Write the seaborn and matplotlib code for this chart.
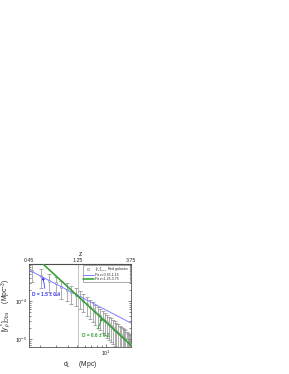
import numpy as np
import pandas as pd
import matplotlib
matplotlib.use("Agg")
import matplotlib.pyplot as plt
import seaborn as sns

# ---- data ----
z_top_ticks = [0.45, 1.25, 3.75]
z_top_pos = [1.55, 5.07, 18.3]          # x positions of the top z labels

d_obs = [1.67, 2.08, 2.51, 2.95, 3.40, 3.86, 4.32, 4.79, 5.27, 5.75, 6.24, 6.73,
         7.22, 7.72, 8.22, 8.73, 9.23, 9.74, 10.25, 10.76, 11.27, 11.79, 12.31,
         12.82, 13.34, 13.86, 14.38, 14.90, 15.43, 15.96, 16.48, 17.01, 17.53, 18.05]
gamma_e4 = [6.29, 4.53, 3.46, 2.905, 2.304, 1.971, 1.687, 1.475,
            1.260, 1.020, 0.842, 0.703, 0.604, 0.517, 0.452, 0.394, 0.344, 0.307,
            0.273, 0.2427, 0.2159, 0.1962, 0.1780, 0.1615, 0.1467, 0.1357, 0.1253,
            0.1162, 0.1076, 0.0997, 0.0923, 0.0852, 0.0788, 0.0744]
err_e4 = [3.15, 2.27, 1.73, 1.45, 1.15, 0.99, 0.84, 0.74,
          0.63, 0.51, 0.438, 0.366, 0.326, 0.279, 0.253, 0.221, 0.200, 0.178,
          0.164, 0.146, 0.134, 0.122, 0.114, 0.103, 0.097, 0.0896, 0.0852,
          0.079, 0.0753, 0.0698, 0.0646, 0.0596, 0.0552, 0.0521]

fit1_x = [1.40, 20.0]
fit1_y = [7.47e-4, 2.35e-5]      # D = 1.5
fit2_x = [2.0, 20.0]
fit2_y = [1.14e-3, 5.66e-6]      # D = 0.6

z_split = 5.07

gamma = [g * 1e-4 for g in gamma_e4]
err = [e * 1e-4 for e in err_e4]

sns.set_style("ticks")
plt.rcParams['font.family'] = ['Liberation Sans', 'DejaVu Sans']
plt.rcParams['mathtext.fontset'] = 'custom'
plt.rcParams['mathtext.rm'] = 'Liberation Sans'
plt.rcParams['mathtext.it'] = 'Liberation Sans:italic'
plt.rcParams['mathtext.bf'] = 'Liberation Sans:bold'

fig = plt.figure(figsize=(2.89, 3.74), dpi=100)
ax = fig.add_axes([0.1003, 0.0722, 0.353, 0.2219])

ax.set_xscale("log")
ax.set_yscale("log")

ax.axvline(z_split, color="#bbbbbb", lw=0.6, zorder=1)

ax.errorbar(d_obs, gamma, yerr=err, fmt="none", ecolor="#8a8a8a",
            elinewidth=0.5, capsize=1.2, capthick=0.5, zorder=2)
df = pd.DataFrame({"d": d_obs, "g": gamma})
sns.scatterplot(data=df, x="d", y="g", ax=ax, marker="o", s=2.5,
                color="#808080", facecolor="white", edgecolor="#808080",
                linewidth=0.4, zorder=3,
                label=r"$[\gamma^*_\rho]_{Obs}$  Red galaxies")

sns.lineplot(x=fit1_x, y=fit1_y, ax=ax, color="#7f7fff", lw=0.7,
             label="Fit z=0.45-1.15", zorder=4)
sns.lineplot(x=fit2_x, y=fit2_y, ax=ax, color="#2e9e2e", lw=1.1,
             label="Fit z=1.25-3.75", zorder=5)

ax.set_xlim(1.55, 18.3)
ax.set_ylim(6.2e-6, 9.4e-4)

ax.tick_params(which="both", direction="in", top=False, right=True,
               labelsize=3.8, width=0.4, pad=1.2, colors="#222222")
ax.tick_params(which="major", length=2.5)
ax.tick_params(which="minor", length=1.3)
for s in ax.spines.values():
    s.set_linewidth(0.6)
    s.set_color("#555555")

ax.set_xlabel(r"d$_L$     (Mpc)", fontsize=4.8)
ax.xaxis.set_label_coords(0.5, -0.15)
ax.set_ylabel(r"$[\gamma^*_\rho]_{Obs}$     (Mpc$^{-3}$)", fontsize=4.8)
ax.yaxis.set_label_coords(-0.16, 0.5)

sec = ax.secondary_xaxis("top")
sec.set_xticks(z_top_pos)
sec.set_xticklabels([f"{v:.2f}" for v in z_top_ticks])
sec.minorticks_off()
sec.tick_params(direction="in", labelsize=3.8, length=2, width=0.4, pad=1)
sec.set_xlabel("z", fontsize=4.8, labelpad=1)

leg = ax.legend(loc="upper right", fontsize=2.5, frameon=True, fancybox=False,
                edgecolor="#444444", borderpad=0.2, handlelength=3.0,
                labelspacing=0.05, borderaxespad=0.15, handletextpad=0.5)
leg.get_frame().set_linewidth(0.4)

ax.annotate("D = 1.5 ± 0.4", xy=(2.17, 4.3e-4), xytext=(1.66, 1.53e-4),
            fontsize=3.4, color="#3333ff", fontweight="bold", va="center",
            arrowprops=dict(arrowstyle="-|>", color="#3333ff", lw=0.6,
                            mutation_scale=3.5, shrinkA=0, shrinkB=0))
ax.annotate("D = 0.6 ± 0.2", xy=(9.08, 3.6e-5), xytext=(5.59, 1.27e-5),
            fontsize=3.4, color="#2e9e2e", fontweight="bold", va="center",
            arrowprops=dict(arrowstyle="-|>", color="#2e9e2e", lw=0.6,
                            mutation_scale=3.5, shrinkA=0, shrinkB=0))

fig.savefig("out.png", dpi=100)
